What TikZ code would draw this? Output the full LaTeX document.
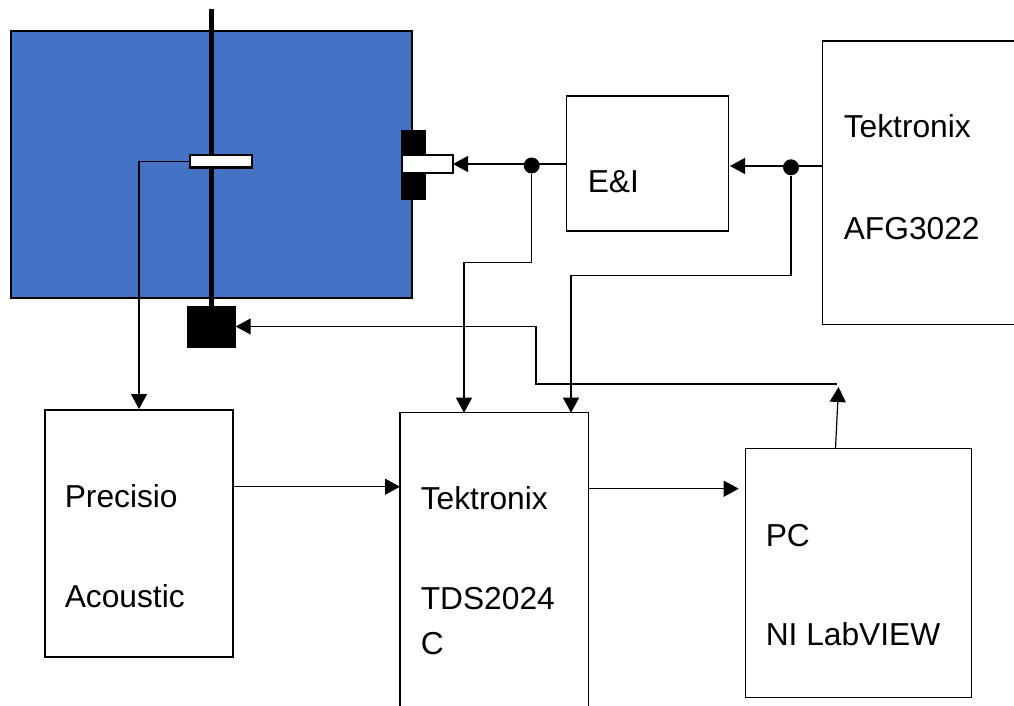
\documentclass[tikz,border=0pt]{standalone}
\usepackage{fontspec}
\setmainfont{Liberation Sans}
\usepackage[dvipsnames]{xcolor}
\usepackage{tikz}
\usetikzlibrary{arrows.meta,positioning,calc}
\definecolor{tankblue}{HTML}{4472C4}

\begin{document}
\begin{tikzpicture} [
  x=0.75pt,y=-0.75pt,
  box/.style= {rectangle,draw,line width=0.9pt,inner sep=0,outer sep=0,anchor=north west,fill=white},
  solid box/.style= {rectangle,draw,fill=black,inner sep=0,outer sep=0,anchor=north west},
  white box/.style= {rectangle,draw,fill=white,inner sep=0,outer sep=0,anchor=north west},
  solid dot/.style= {circle,fill=black,inner sep=0,minimum size=12pt},
  word/.style= {inner sep=0,anchor=base west,font=\fontsize{23.8}{28}\selectfont},
  wire/.style= {line width=0.9pt},
  arrow wire/.style= {line width=0.9pt,-{Triangle[length=11.25pt,width=12pt]}}
]
\path [use as bounding box,clip] (0,0) rectangle (1014,706);

% tank with rod
\node (tank) [box,fill=tankblue,line width=2pt,minimum width=300.75pt,minimum height=200.25pt] at (11,31) {};
\node (square) [solid box,minimum width=36.3pt,minimum height=30.75pt] at (187.3,306) {};
\coordinate (R1) at (211.3,9);
\draw [line width=4pt] (R1) -- (R1 |- square.north);
\node (sensor) [white box,line width=1.9pt,minimum width=46.5pt,minimum height=9.4pt] at (190,155) {};
\node (block) [solid box,minimum width=18pt,minimum height=51.75pt] at (401,130) {};
\node (source) [white box,line width=1.6pt,minimum width=38.25pt,minimum height=13.5pt] at (402,155) {};

% boxes
\node (EI) [box,minimum width=121.5pt,minimum height=101.25pt] at (566.7,96) {};
\node (AFG) [box,minimum width=195pt,minimum height=212.8pt] at (822.7,41) {};
\node (Prec) [box,minimum width=141pt,minimum height=185.25pt] at (45,410) {};
\node (TDS) [box,minimum width=141.2pt,minimum height=300pt] at (400,412.7) {};
\node (PC) [box,minimum width=169.65pt,minimum height=186.9pt] at (745.3,448.3) {};

% texts
\node (W1) [word] at (843.5,137.5) {Tektronix};
\node (W2) [word] at (843.5,239.5) {AFG3022};
\node (W3) [word] at (587.5,192.5) {E\&I};
\node (W4) [word] at (64.5,507) {Precisio};
\node (W5) [word] at (64.5,607) {Acoustic};
\node (W6) [word] at (420.5,509.5) {Tektronix};
\node (W7) [word] at (420.5,609.5) {TDS2024};
\node (W8) [word] at (420.5,654.5) {C};
\node (W9) [word] at (765.5,546) {PC};
\node (W10) [word] at (765.5,645.5) {NI LabVIEW};

% junctions
\node (dot1) [solid dot] at (531.7,165.5) {};
\node (dot2) [solid dot] at (791,167.3) {};
\coordinate (A1) at (730,166);
\coordinate (T1) at (464,262.7);
\coordinate (T2) at (571,275.7);
\coordinate (S1) at (139,409);
\coordinate (Q1) at (233,486.7);
\coordinate (P1) at (738.7,488.7);
\coordinate (F1) at (835.5,448.3);
\coordinate (F2) at (838.5,387);
\coordinate (F3) at (837,384);
\coordinate (F4) at (536,384);

% connectors
\draw [arrow wire] (EI.west |- source.east) -- (source.east);
\draw [arrow wire] (A1 -| AFG.west) -- (A1);
\draw [arrow wire] (dot1) |- (T1) -- (T1 |- TDS.north);
\draw [arrow wire] (dot2) |- (T2) -- (T2 |- TDS.north);
\draw [arrow wire] (sensor.west) -| (S1);
\draw [arrow wire] (Q1) -- (Q1 -| TDS.west);
\draw [arrow wire] (P1 -| TDS.east) -- (P1);
\draw [arrow wire] (F1) -- (F2);
\draw [arrow wire] (F3) -- (F4) |- (square.east);
\end{tikzpicture}
\end{document}
